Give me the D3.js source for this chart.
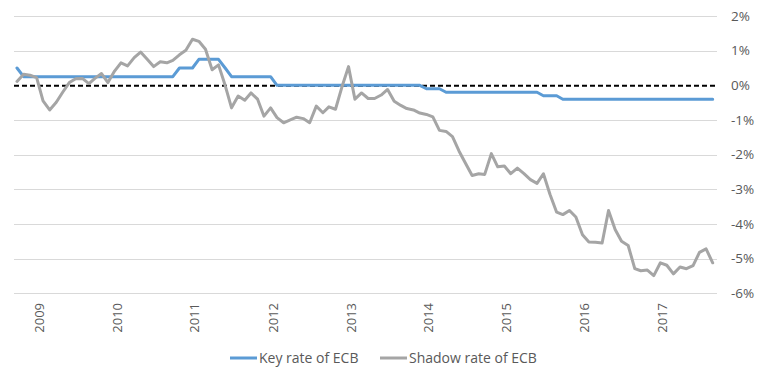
<!DOCTYPE html>
<html>
<head>
<meta charset="utf-8">
<script src="https://cdn.jsdelivr.net/npm/d3@7"></script>
<style>
  html, body { margin: 0; padding: 0; background: #fff; }
  svg { display: block; }
  text { font-family: "Open Sans", sans-serif; fill: #595959; }
</style>
</head>
<body>
<svg id="chart" width="768" height="381"></svg>
<script>
// ---- data (monthly, Mar 2009 – Feb 2018) ----
const startYear = 2009, startMonth = 2; // March 2009 (0-based month)
const keyRate = [
  0.5, 0.25, 0.25, 0.25, 0.25, 0.25, 0.25, 0.25, 0.25, 0.25,
  0.25, 0.25, 0.25, 0.25, 0.25, 0.25, 0.25, 0.25, 0.25, 0.25,
  0.25, 0.25, 0.25, 0.25, 0.25, 0.5, 0.5, 0.5, 0.75, 0.75,
  0.75, 0.75, 0.5, 0.25, 0.25, 0.25, 0.25, 0.25, 0.25, 0.25,
  0, 0, 0, 0, 0, 0, 0, 0, 0, 0,
  0, 0, 0, 0, 0, 0, 0, 0, 0, 0,
  0, 0, 0, -0.1, -0.1, -0.1, -0.2, -0.2, -0.2, -0.2,
  -0.2, -0.2, -0.2, -0.2, -0.2, -0.2, -0.2, -0.2, -0.2, -0.2,
  -0.2, -0.3, -0.3, -0.3, -0.4, -0.4, -0.4, -0.4, -0.4, -0.4,
  -0.4, -0.4, -0.4, -0.4, -0.4, -0.4, -0.4, -0.4, -0.4, -0.4,
  -0.4, -0.4, -0.4, -0.4, -0.4, -0.4, -0.4, -0.4
];
const shadowRate = [
  0.11, 0.32, 0.29, 0.22, -0.45, -0.71, -0.49, -0.2, 0.08, 0.19,
  0.2, 0.05, 0.2, 0.34, 0.08, 0.41, 0.65, 0.56, 0.8, 0.96,
  0.75, 0.54, 0.68, 0.65, 0.72, 0.88, 1.01, 1.33, 1.27, 1.04,
  0.45, 0.59, 0.0, -0.65, -0.31, -0.43, -0.22, -0.4, -0.89, -0.65,
  -0.93, -1.08, -1.0, -0.92, -0.96, -1.08, -0.6, -0.79, -0.62, -0.69,
  -0.05, 0.54, -0.4, -0.22, -0.38, -0.38, -0.28, -0.12, -0.46, -0.58,
  -0.67, -0.71, -0.8, -0.84, -0.91, -1.3, -1.33, -1.48, -1.9, -2.25,
  -2.6, -2.55, -2.57, -1.97, -2.35, -2.33, -2.55, -2.39, -2.55, -2.72,
  -2.83, -2.55, -3.15, -3.66, -3.73, -3.61, -3.8, -4.31, -4.52, -4.53,
  -4.55, -3.61, -4.16, -4.5, -4.62, -5.29, -5.35, -5.33, -5.49, -5.12,
  -5.19, -5.44, -5.24, -5.29, -5.2, -4.82, -4.72, -5.12
];
const yearLabels = ["2009","2010","2011","2012","2013","2014","2015","2016","2017"];
const yTicks = [2, 1, 0, -1, -2, -3, -4, -5, -6];
const seriesNames = ["Key rate of ECB", "Shadow rate of ECB"];
const seriesColors = ["#5B9BD5", "#A5A5A5"];

// ---- build ----
const FONT = "'Open Sans', sans-serif";
const dates = keyRate.map((_, i) => new Date(startYear, startMonth + i, 1));
const svg = d3.select("#chart");

const x = d3.scaleTime()
  .domain([dates[0], dates[dates.length - 1]])
  .range([17, 712.7]);
const y = d3.scaleLinear().domain([-6, 2]).range([293.3, 16]);

const plotLeft = 14, plotRight = 717;

// gridlines
svg.append("g").selectAll("line")
  .data(yTicks.filter(d => d !== 0))
  .join("line")
  .attr("x1", plotLeft).attr("x2", plotRight)
  .attr("y1", d => Math.round(y(d)) + 0.5).attr("y2", d => Math.round(y(d)) + 0.5)
  .attr("stroke", "#D9D9D9").attr("stroke-width", 1);

// right y axis labels
const yAxis = d3.axisRight(y).tickValues(yTicks).tickSize(0).tickPadding(0)
  .tickFormat(d => d + "%");
const gy = svg.append("g").attr("transform", "translate(731,0)").call(yAxis);
gy.select(".domain").remove();
gy.selectAll("text").attr("font-size", 13.5).attr("fill", "#595959")
  .style("font-family", FONT);

// x axis labels (rotated)
const tickDates = yearLabels.map(yr => new Date(+yr, 5, 10));
const xAxis = d3.axisBottom(x).tickValues(tickDates).tickSize(0)
  .tickFormat((d, i) => yearLabels[i]);
const gx = svg.append("g").attr("transform", "translate(0,303)").call(xAxis);
gx.select(".domain").remove();
gx.selectAll("text")
  .attr("font-size", 13).attr("fill", "#595959")
  .style("font-family", FONT)
  .attr("transform", "rotate(-90)")
  .attr("text-anchor", "end")
  .attr("x", 0).attr("y", 0).attr("dy", "0.35em");

// zero dashed line
svg.append("line")
  .attr("x1", plotLeft).attr("x2", plotRight)
  .attr("y1", y(0) + 0.5).attr("y2", y(0) + 0.5)
  .attr("stroke", "#000").attr("stroke-width", 2)
  .attr("stroke-dasharray", "5,3");

// lines
const line = d3.line().x((d, i) => x(dates[i])).y(d => y(d));
[keyRate, shadowRate].forEach((s, k) => {
  svg.append("path")
    .datum(s)
    .attr("fill", "none")
    .attr("stroke", seriesColors[k])
    .attr("stroke-width", 3)
    .attr("stroke-linejoin", "round")
    .attr("stroke-linecap", "round")
    .attr("d", line);
});

// legend
const legendX = [230, 380];
const lg = svg.append("g");
seriesNames.forEach((name, k) => {
  lg.append("line")
    .attr("x1", legendX[k]).attr("x2", legendX[k] + 27)
    .attr("y1", 358).attr("y2", 358)
    .attr("stroke", seriesColors[k]).attr("stroke-width", 3);
  lg.append("text")
    .attr("x", legendX[k] + 29).attr("y", 358).attr("dy", "0.35em")
    .attr("font-size", 14).attr("fill", "#595959")
    .style("font-family", FONT)
    .text(name);
});
</script>
</body>
</html>
